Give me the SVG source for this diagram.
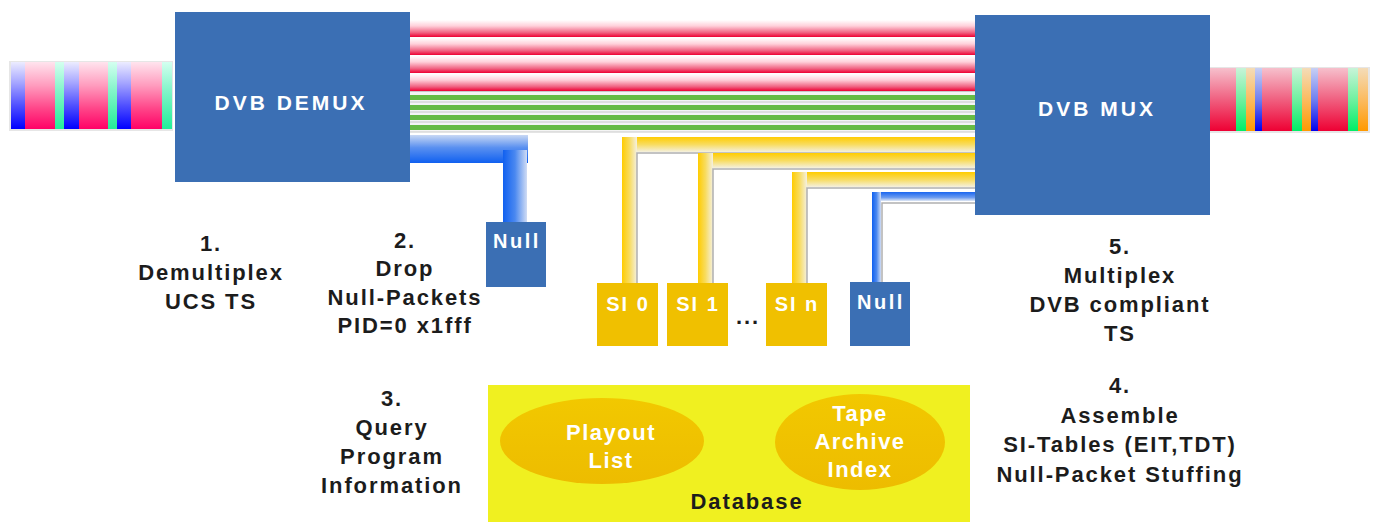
<svg xmlns="http://www.w3.org/2000/svg" width="1379" height="525" viewBox="0 0 1379 525">
<style>
.lbl{font-family:"Liberation Sans",Arial,sans-serif;font-weight:bold;font-size:22px;fill:#1c1c1c;text-anchor:middle;letter-spacing:1.9px}
.wt{font-family:"Liberation Sans",Arial,sans-serif;font-weight:bold;fill:#ffffff;text-anchor:middle}
.box{fill:#3B6FB4}
.si{fill:#F0C000}
.gl{fill:#c8c8c8}
</style>
<defs>
<linearGradient id="gBlue" x1="0" y1="0" x2="0" y2="1">
<stop offset="0" stop-color="#ECECFF"/><stop offset="0.3" stop-color="#A8A8FF"/><stop offset="0.65" stop-color="#5050FF"/><stop offset="1" stop-color="#0000FF"/>
</linearGradient>
<linearGradient id="gPink" x1="0" y1="0" x2="0" y2="1">
<stop offset="0" stop-color="#FFE4EE"/><stop offset="0.35" stop-color="#FF9CBE"/><stop offset="0.7" stop-color="#FF4488"/><stop offset="1" stop-color="#FF0066"/>
</linearGradient>
<linearGradient id="gAqua" x1="0" y1="0" x2="0" y2="1">
<stop offset="0" stop-color="#D4FFF0"/><stop offset="0.4" stop-color="#88F5CC"/><stop offset="1" stop-color="#22EE99"/>
</linearGradient>
<linearGradient id="gRed" x1="0" y1="0" x2="0" y2="1">
<stop offset="0" stop-color="#F6C0CC"/><stop offset="0.5" stop-color="#F06080"/><stop offset="1" stop-color="#EE0033"/>
</linearGradient>
<linearGradient id="gGreen" x1="0" y1="0" x2="0" y2="1">
<stop offset="0" stop-color="#C8F4D8"/><stop offset="0.5" stop-color="#70F0A0"/><stop offset="1" stop-color="#00EE66"/>
</linearGradient>
<linearGradient id="gOrange" x1="0" y1="0" x2="0" y2="1">
<stop offset="0" stop-color="#F4DCB8"/><stop offset="0.5" stop-color="#FBBB60"/><stop offset="1" stop-color="#FF9900"/>
</linearGradient>
<linearGradient id="gBlue2" x1="0" y1="0" x2="0" y2="1">
<stop offset="0" stop-color="#C8D0F4"/><stop offset="0.5" stop-color="#7080F0"/><stop offset="1" stop-color="#0000EE"/>
</linearGradient>
<linearGradient id="gRedBand" x1="0" y1="0" x2="0" y2="1">
<stop offset="0" stop-color="#FFFFFF"/><stop offset="0.35" stop-color="#FFD0DA"/><stop offset="0.75" stop-color="#F06080"/><stop offset="1" stop-color="#EE0033"/>
</linearGradient>
<linearGradient id="gYH" x1="0" y1="0" x2="0" y2="1">
<stop offset="0" stop-color="#FFCC00"/><stop offset="0.5" stop-color="#F8DC60"/><stop offset="1" stop-color="#F4F0E0"/>
</linearGradient>
<linearGradient id="gYV" x1="0" y1="0" x2="1" y2="0">
<stop offset="0" stop-color="#FFCC00"/><stop offset="0.5" stop-color="#F8DC60"/><stop offset="1" stop-color="#F4F0E0"/>
</linearGradient>
<linearGradient id="gBH" x1="0" y1="0" x2="0" y2="1">
<stop offset="0" stop-color="#C8D8F4"/><stop offset="0.45" stop-color="#5A90F0"/><stop offset="1" stop-color="#1060F0"/>
</linearGradient>
<linearGradient id="gBV" x1="0" y1="0" x2="1" y2="0">
<stop offset="0" stop-color="#1060F0"/><stop offset="0.5" stop-color="#4A88F0"/><stop offset="1" stop-color="#D0DCF4"/>
</linearGradient>
<linearGradient id="gBH2" x1="0" y1="0" x2="0" y2="1">
<stop offset="0" stop-color="#1A66F0"/><stop offset="0.6" stop-color="#6A9AF0"/><stop offset="1" stop-color="#E0E8F4"/>
</linearGradient>
<linearGradient id="gEll" x1="0" y1="0" x2="0" y2="1">
<stop offset="0" stop-color="#F2C800"/><stop offset="1" stop-color="#EDBC00"/>
</linearGradient>
</defs>

<g id="connectors">
  <!-- red bands -->
  <rect x="410" y="20" width="565" height="17" fill="url(#gRedBand)"/>
  <rect x="410" y="38" width="565" height="17" fill="url(#gRedBand)"/>
  <rect x="410" y="56" width="565" height="17" fill="url(#gRedBand)"/>
  <rect x="410" y="74" width="565" height="17" fill="url(#gRedBand)"/>
  <!-- green lines -->
  <rect x="410" y="91" width="565" height="41" fill="#F4F4F4"/>
  <rect x="410" y="91" width="565" height="1" class="gl"/>
  <rect x="410" y="101.5" width="565" height="1" class="gl"/>
  <rect x="410" y="111.5" width="565" height="1" class="gl"/>
  <rect x="410" y="121.5" width="565" height="1" class="gl"/>
  <rect x="410" y="131.5" width="565" height="1" class="gl"/>
  <rect x="410" y="95" width="565" height="5" fill="#66BB44"/>
  <rect x="410" y="105" width="565" height="5" fill="#66BB44"/>
  <rect x="410" y="115" width="565" height="5" fill="#66BB44"/>
  <rect x="410" y="125" width="565" height="5" fill="#66BB44"/>
  <!-- blue from demux to Null -->
  <rect x="410" y="135" width="118" height="28" fill="url(#gBH)"/>
  <rect x="503" y="150" width="24" height="72" fill="url(#gBV)"/>
  <!-- SI 0 -->
  <rect x="622" y="137" width="353" height="15" fill="url(#gYH)"/>
  <rect x="622" y="137" width="15" height="146" fill="url(#gYV)"/>
  <path d="M637 283 V153 H975" fill="none" stroke="#b0b0b0" stroke-width="1.5"/>
  <!-- SI 1 -->
  <rect x="698" y="153" width="277" height="15" fill="url(#gYH)"/>
  <rect x="698" y="153" width="15" height="130" fill="url(#gYV)"/>
  <path d="M713 283 V169 H975" fill="none" stroke="#b0b0b0" stroke-width="1.5"/>
  <!-- SI n -->
  <rect x="792" y="172" width="183" height="15" fill="url(#gYH)"/>
  <rect x="792" y="172" width="15" height="111" fill="url(#gYV)"/>
  <path d="M807 283 V188 H975" fill="none" stroke="#b0b0b0" stroke-width="1.5"/>
  <!-- Null right -->
  <rect x="872" y="192" width="103" height="9" fill="url(#gBH2)"/>
  <rect x="872" y="192" width="9" height="90" fill="url(#gBV)"/>
  <path d="M882 282 V203 H975" fill="none" stroke="#b0b0b0" stroke-width="1.5"/>
</g>

<g id="stream-in">
  <rect x="9" y="61" width="164" height="70" fill="#e6e6e6"/>
  <rect x="11" y="62" width="14" height="67" fill="url(#gBlue)"/>
  <rect x="25" y="62" width="30" height="67" fill="url(#gPink)"/>
  <rect x="55" y="62" width="9" height="67" fill="url(#gAqua)"/>
  <rect x="64" y="62" width="15" height="67" fill="url(#gBlue)"/>
  <rect x="79" y="62" width="29" height="67" fill="url(#gPink)"/>
  <rect x="108" y="62" width="9" height="67" fill="url(#gAqua)"/>
  <rect x="117" y="62" width="14" height="67" fill="url(#gBlue)"/>
  <rect x="131" y="62" width="31" height="67" fill="url(#gPink)"/>
  <rect x="162" y="62" width="10" height="67" fill="url(#gAqua)"/>
</g>

<g id="stream-out">
  <rect x="1209" y="67" width="161" height="66" fill="#e6e6e6"/>
  <rect x="1210" y="68" width="26" height="63" fill="url(#gRed)"/>
  <rect x="1236" y="68" width="10" height="63" fill="url(#gGreen)"/>
  <rect x="1246" y="68" width="9" height="63" fill="url(#gOrange)"/>
  <rect x="1255" y="68" width="7" height="63" fill="url(#gBlue2)"/>
  <rect x="1262" y="68" width="30" height="63" fill="url(#gRed)"/>
  <rect x="1292" y="68" width="10" height="63" fill="url(#gGreen)"/>
  <rect x="1302" y="68" width="9" height="63" fill="url(#gOrange)"/>
  <rect x="1311" y="68" width="7" height="63" fill="url(#gBlue2)"/>
  <rect x="1318" y="68" width="30" height="63" fill="url(#gRed)"/>
  <rect x="1348" y="68" width="10" height="63" fill="url(#gGreen)"/>
  <rect x="1358" y="68" width="10" height="63" fill="url(#gOrange)"/>
</g>

<g id="demux">
  <rect x="175" y="12" width="235" height="170" class="box"/>
  <text x="291" y="110" class="wt" font-size="21" letter-spacing="3">DVB DEMUX</text>
</g>

<g id="mux">
  <rect x="975" y="15" width="235" height="200" class="box"/>
  <text x="1097" y="116" class="wt" font-size="21" letter-spacing="3">DVB MUX</text>
</g>

<g id="null1">
  <rect x="486" y="222" width="60" height="65" class="box"/>
  <text x="517" y="248" class="wt" font-size="20" letter-spacing="2.5">Null</text>
</g>

<g id="si0">
  <rect x="597" y="283" width="61" height="63" class="si"/>
  <text x="628" y="311" class="wt" font-size="20" letter-spacing="2">SI 0</text>
</g>
<g id="si1">
  <rect x="667" y="283" width="61" height="63" class="si"/>
  <text x="698" y="311" class="wt" font-size="20" letter-spacing="2">SI 1</text>
</g>
<text x="748" y="324" class="lbl" font-size="20" letter-spacing="1">...</text>
<g id="sin">
  <rect x="766" y="283" width="61" height="63" class="si"/>
  <text x="797" y="311" class="wt" font-size="20" letter-spacing="2">SI n</text>
</g>
<g id="null2">
  <rect x="850" y="282" width="60" height="64" class="box"/>
  <text x="881" y="309" class="wt" font-size="20" letter-spacing="2.5">Null</text>
</g>

<g id="database">
  <rect x="488" y="385" width="482" height="137" fill="#F0F020"/>
  <ellipse cx="602" cy="441" rx="102" ry="43" fill="url(#gEll)"/>
  <ellipse cx="860" cy="442" rx="85" ry="48" fill="url(#gEll)"/>
  <text x="611" y="440" class="wt" font-size="22" letter-spacing="1.5">Playout</text>
  <text x="611" y="468" class="wt" font-size="22" letter-spacing="1.5">List</text>
  <text x="860" y="421" class="wt" font-size="22" letter-spacing="1.5">Tape</text>
  <text x="860" y="449" class="wt" font-size="22" letter-spacing="1.5">Archive</text>
  <text x="860" y="477" class="wt" font-size="22" letter-spacing="1.5">Index</text>
  <text x="747" y="509" class="lbl" fill="#111">Database</text>
</g>

<g id="label1">
  <text x="211" y="251" class="lbl">1.</text>
  <text x="211" y="280" class="lbl">Demultiplex</text>
  <text x="211" y="309" class="lbl">UCS TS</text>
</g>
<g id="label2">
  <text x="405" y="248" class="lbl">2.</text>
  <text x="405" y="276" class="lbl">Drop</text>
  <text x="405" y="305" class="lbl">Null-Packets</text>
  <text x="405" y="333" class="lbl">PID=0 x1fff</text>
</g>
<g id="label3">
  <text x="392" y="406" class="lbl">3.</text>
  <text x="392" y="435" class="lbl">Query</text>
  <text x="392" y="464" class="lbl">Program</text>
  <text x="392" y="493" class="lbl">Information</text>
</g>
<g id="label5">
  <text x="1120" y="254" class="lbl">5.</text>
  <text x="1120" y="283" class="lbl">Multiplex</text>
  <text x="1120" y="312" class="lbl">DVB compliant</text>
  <text x="1120" y="341" class="lbl">TS</text>
</g>
<g id="label4">
  <text x="1120" y="393" class="lbl">4.</text>
  <text x="1120" y="423" class="lbl">Assemble</text>
  <text x="1120" y="452" class="lbl">SI-Tables (EIT,TDT)</text>
  <text x="1120" y="482" class="lbl">Null-Packet Stuffing</text>
</g>
</svg>
